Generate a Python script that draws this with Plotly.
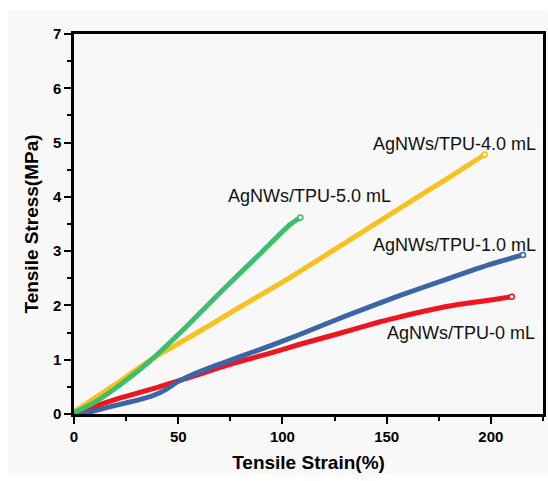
import plotly.graph_objects as go

# Tensile stress-strain curves of AgNWs/TPU films
strain_0 = [0, 10, 20, 30, 40, 50, 60, 78, 95, 108, 125, 146, 155.5, 170, 185, 200, 210]
stress_0 = [0, 0.14, 0.27, 0.38, 0.49, 0.61, 0.73, 0.95, 1.13, 1.28, 1.46, 1.69, 1.78, 1.91, 2.02, 2.1, 2.16]

strain_1 = [4, 12, 20, 30, 38, 44, 50, 56, 65, 80, 95, 108, 130, 155.5, 180, 200, 215.4]
stress_1 = [0, 0.08, 0.16, 0.25, 0.34, 0.45, 0.6, 0.71, 0.85, 1.06, 1.27, 1.46, 1.8, 2.17, 2.5, 2.76, 2.93]

strain_4 = [0, 20, 36, 60, 80, 103, 130, 160, 180, 197]
stress_4 = [0.04, 0.55, 0.98, 1.52, 1.98, 2.5, 3.15, 3.88, 4.36, 4.78]

strain_5 = [0, 10, 20, 36, 51, 71, 90, 100, 104, 108.6]
stress_5 = [0.02, 0.22, 0.48, 0.96, 1.5, 2.27, 2.98, 3.36, 3.5, 3.62]

series_names = ["AgNWs/TPU-0 mL", "AgNWs/TPU-1.0 mL", "AgNWs/TPU-4.0 mL", "AgNWs/TPU-5.0 mL"]
series_colors = ["#f0141e", "#3b65a6", "#f8c21e", "#3cbf6c"]

# label anchor points (strain, stress) for each curve name
label_x = [222.1, 222.7, 222.6, 73.1]
label_y = [1.49, 3.12, 4.98, 4.02]
label_anchor = ["right", "right", "right", "left"]

x_ticks = [0, 50, 100, 150, 200]
y_ticks = [0, 1, 2, 3, 4, 5, 6, 7]

curves = [(strain_0, stress_0), (strain_1, stress_1), (strain_4, stress_4), (strain_5, stress_5)]

fig = go.Figure()
for (xs, ys), name, color in zip(curves, series_names, series_colors):
    fig.add_trace(go.Scatter(
        x=xs, y=ys, mode="lines", name=name,
        line=dict(color=color, width=5, shape="spline", smoothing=0.6),
        showlegend=False,
    ))
    # hollow end point of each curve
    fig.add_trace(go.Scatter(
        x=[xs[-1]], y=[ys[-1]], mode="markers", showlegend=False,
        marker=dict(symbol="circle", size=5, color="white",
                    line=dict(color=color, width=1.5)),
    ))

for name, lx, ly, anc in zip(series_names, label_x, label_y, label_anchor):
    fig.add_annotation(x=lx, y=ly, text=name, showarrow=False,
                       xanchor=anc, yanchor="middle",
                       font=dict(family="Liberation Sans", size=18, color="#111111"))

axis_common = dict(
    showline=True, linecolor="#000000", linewidth=2.5, mirror=True,
    ticks="outside", ticklen=7, tickwidth=2, tickcolor="#000000",
    showgrid=False, zeroline=False,
    tickfont=dict(family="Liberation Sans", size=15, color="#000000", weight="bold"),
)

fig.update_xaxes(
    range=[0, 225], tickvals=x_ticks,
    minor=dict(ticks="outside", ticklen=4, tickwidth=2, dtick=25, tickcolor="#000000"),
    title=dict(text="Tensile Strain(%)", standoff=12,
               font=dict(family="Liberation Sans", size=19, color="#000000", weight="bold")),
    **axis_common,
)
fig.update_yaxes(
    range=[0, 7], tickvals=y_ticks,
    minor=dict(ticks="outside", ticklen=4, tickwidth=2, dtick=0.5, tickcolor="#000000"),
    title=dict(text="Tensile Stress(MPa)", standoff=10,
               font=dict(family="Liberation Sans", size=19, color="#000000", weight="bold")),
    **axis_common,
)

fig.update_layout(
    width=548, height=481,
    margin=dict(l=74, r=2, t=34, b=66.5),
    paper_bgcolor="#ffffff", plot_bgcolor="#f8f8f8",
    shapes=[dict(type="rect", xref="paper", yref="paper", x0=-0.14, x1=1.01,
                 y0=-0.16, y1=1.063, fillcolor="#f8f8f8", line=dict(width=0),
                 layer="below")],
)

fig.write_html("out.html")
